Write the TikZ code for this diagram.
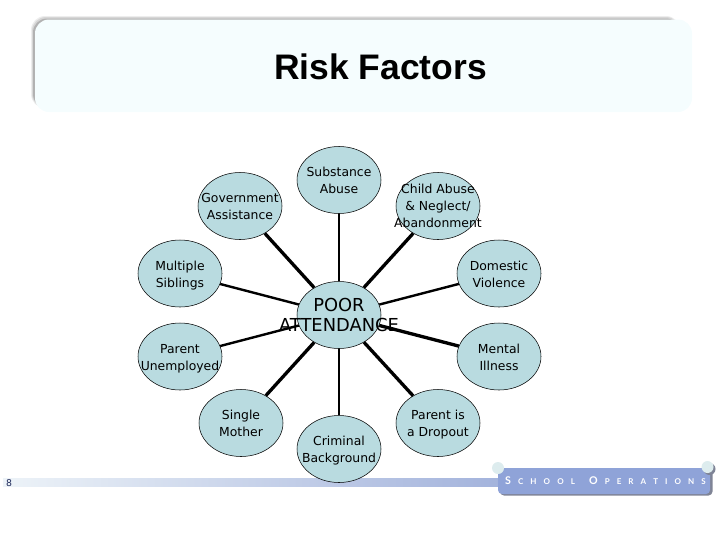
\documentclass[tikz,border=0pt]{standalone}
\usepackage{fontspec}
\setmainfont{DejaVu Sans}
\newfontfamily\titlefont{Liberation Sans}
\newfontfamily\brandfont{Lato}
\usetikzlibrary{shapes.geometric}
\definecolor{bubble}{HTML}{B9DBE0}
\definecolor{panelfill}{HTML}{F5FDFE}
\definecolor{brand}{HTML}{8FA3D8}
\definecolor{brandshade}{HTML}{7F8496}
\definecolor{stud}{HTML}{DDECEE}
\definecolor{barleft}{HTML}{EDF3F8}
\definecolor{barright}{HTML}{A3B3DC}
\definecolor{pagenum}{HTML}{1F2A5A}
\newcommand{\btext}[2][-3.7pt]{\makebox[0pt]{\raisebox{#1}[0pt][0pt]{\begin{tabular}{@{}c@{}}#2\end{tabular}}}}
\tikzset{
  x=0.75pt,y=-0.75pt,
  bubblenode/.style={ellipse,draw=black,line width=0.4pt,fill=bubble,inner sep=0pt,
    minimum width=63pt,minimum height=50.25pt,align=center,
    font=\fontsize{9.3pt}{12.75pt}\selectfont},
  linkbold/.style={line width=2.5pt,black},
  linkthin/.style={line width=1.8pt,black},
}
\begin{document}
\begin{tikzpicture}
\useasboundingbox (0,0) rectangle (720,540);
% title panel
\fill[black!7,rounded corners=10.5pt] (31,16) rectangle (680,108);
\fill[black!16,rounded corners=10.5pt] (32,17) rectangle (680,108);
\fill[black!30,rounded corners=10.5pt] (33,18.5) rectangle (680,108);
\fill[panelfill,rounded corners=10.5pt] (35,19.5) rectangle (692,112);
\node[font=\titlefont\bfseries\fontsize{26.6pt}{30pt}\selectfont,inner sep=0pt] (title) at (380.5,67) {Risk Factors};
% footer
\shade[left color=barleft,right color=barright] (3,478) rectangle (500,486);
\node[font=\fontsize{7pt}{9pt}\selectfont,text=pagenum,inner sep=0pt] (page) at (9,483) {8};
\fill[brandshade,rounded corners=3pt] (500,470) rectangle (712.5,495.5);
\fill[brand,rounded corners=3pt] (498,468) rectangle (710,494);
\fill[brandshade] (709.5,469) circle[radius=6];
\fill[stud] (498,468) circle[radius=6];
\fill[stud] (707.5,467) circle[radius=6];
\node[text=white,inner sep=0pt,font=\brandfont\bfseries\fontsize{6pt}{8pt}\selectfont] (brandname) at (605.5,481)
  {\makebox[150.5pt][s]{{\fontsize{8pt}{8pt}\selectfont S}\hfill C\hfill H\hfill O\hfill O\hfill L\hfill\hfill{\fontsize{8pt}{8pt}\selectfont O}\hfill P\hfill E\hfill R\hfill A\hfill T\hfill I\hfill O\hfill N\hfill S}};
% nodes
\node[bubblenode] (gov) at (240,206) {\btext{Government\\Assistance}};
\node[bubblenode] (sub) at (339,180) {\btext{Substance\\Abuse}};
\node[bubblenode] (child) at (438,206) {\btext[-3pt]{Child Abuse\\\& Neglect/\\Abandonment}};
\node[bubblenode] (mult) at (180,273.5) {\btext{Multiple\\Siblings}};
\node[bubblenode] (dom) at (499,273.5) {\btext{Domestic\\Violence}};
\node[bubblenode] (par) at (180,356.5) {\btext{Parent\\Unemployed}};
\node[bubblenode] (ment) at (499,356.5) {\btext{Mental\\Illness}};
\node[bubblenode] (sing) at (241,423) {\btext{Single\\Mother}};
\node[bubblenode] (crim) at (339,449) {\btext{Criminal\\Background}};
\node[bubblenode] (drop) at (438,423) {\btext{Parent is\\a Dropout}};
\node[bubblenode,font=\fontsize{13.4pt}{15.3pt}\selectfont] (poor) at (339,315) {\btext[-5.6pt]{POOR\\ATTENDANCE}};
% connectors
\draw[linkbold] (poor) -- (gov);
\draw[linkthin] (poor) -- (sub);
\draw[linkbold] (poor) -- (child);
\draw[linkthin] (poor) -- (mult);
\draw[linkthin] (poor) -- (dom);
\draw[linkthin] (poor) -- (par);
\draw[linkbold] (poor) -- (ment);
\draw[linkbold] (poor) -- (sing);
\draw[linkthin] (poor) -- (crim);
\draw[linkbold] (poor) -- (drop);
\end{tikzpicture}
\end{document}
